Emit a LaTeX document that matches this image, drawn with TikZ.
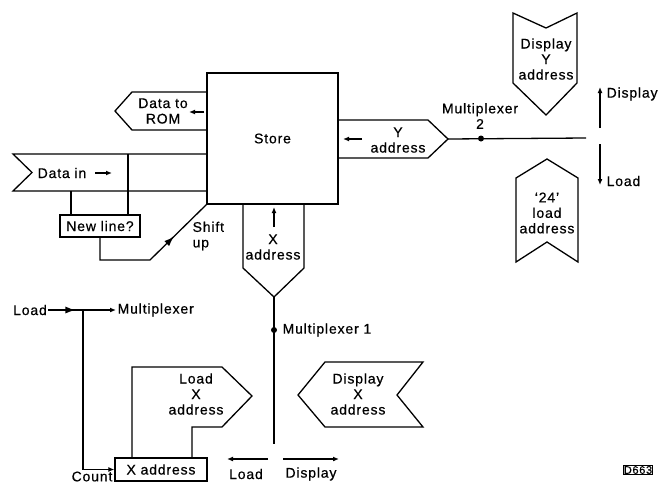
\documentclass[tikz,border=0pt]{standalone}
\usepackage{fontspec}
\setmainfont{Liberation Sans}[LetterSpace=6,FakeBold=0.6]
\usetikzlibrary{arrows.meta,decorations.markings}
\begin{document}
\begin{tikzpicture}[x=1pt,y=-1pt,line width=1.3pt,
  every node/.style={font=\fontsize{14}{15.5}\selectfont,inner sep=1pt},
  lbl/.style={align=center},
  boxed/.style={draw,line width=1.3pt,inner sep=2pt},
  tip/.style={-{Latex[length=6pt,width=5pt]}},
  midtip/.style={postaction={decorate},decoration={markings,
     mark=at position #1 with {\arrow{Latex[length=10pt,width=7pt]}}}},
  dot/.style={circle,fill,inner sep=0pt,minimum size=6pt}]
\useasboundingbox (0,0) rectangle (659,485);
% Store
\node[draw,minimum width=131,minimum height=131,line width=1.3pt] (store) at (272.5,138.5) {Store};
% Data to ROM (points left)
\draw (store.west |- 0,92) -- (132,92) -- (115,111) -- (132,130) -- (store.west |- 0,130);
\node[lbl] (rom) at (163,111) {Data to\\ROM};
\coordinate (romA) at (204,112); \coordinate (romB) at (189,112);
\draw[tip] (romA) -- (romB);
% Data in (notched flag)
\draw (store.west |- 0,154) -- (13,154) -- (32,172.5) -- (13,191) -- (store.west |- 0,191);
\node (datain) at (62,173) {Data in};
\coordinate (dinA) at (95,173); \coordinate (dinB) at (112,173);
\draw[tip] (dinA) -- (dinB);
% New line?
\node[boxed,minimum width=80,minimum height=22] (newline) at (100,226) {New line?};
\coordinate (nlA) at (71,191); \coordinate (nlB) at (128,154);
\draw (nlA) -- (nlA |- newline.north);
\draw (nlB) -- (nlB |- newline.north);
\draw[midtip=0.7] (newline.south) -- (100,260) -- (150,260) -- (store.south west);
\node[align=left,anchor=west] (shift) at (191,236) {Shift\\up};
% Y address (points right)
\coordinate (ytip) at (448,139);
\draw (store.east |- 0,120) -- (428,120) -- (ytip) -- (428,158) -- (store.east |- 0,158);
\node[lbl] (yaddr) at (398,140) {Y\\address};
\coordinate (yarA) at (362,139); \coordinate (yarB) at (343,139);
\draw[tip] (yarA) -- (yarB);
% Multiplexer 2
\coordinate (mux2end) at (586,138);
\draw (ytip) -- (mux2end);
\node[dot] (mux2) at (481,138.5) {};
\node[lbl] (mux2l) at (480,116) {Multiplexer\\2};
% Display / Load right
\coordinate (dispA) at (600,128); \coordinate (dispB) at (600,87);
\draw[tip] (dispA) -- (dispB);
\node[anchor=west] (displ) at (605,94) {Display};
\coordinate (loadA) at (600,144); \coordinate (loadB) at (600,185);
\draw[tip] (loadA) -- (loadB);
\node[anchor=west] (loadl) at (605,181) {Load};
% Display Y address (notch top, points down)
\draw (513,13) -- (546,28) -- (577,13) -- (577,83) -- (546,115) -- (513,83) -- cycle;
\node[lbl] (dispy) at (546,59) {Display\\Y\\address};
% '24' load address (points up, notch bottom)
\draw (547,159) -- (578,178) -- (578,262) -- (547,242) -- (516,262) -- (516,178) -- cycle;
\node[lbl] (load24) at (547,213) {`24'\\load\\address};
% X address (points down)
\coordinate (xtip) at (274,297);
\draw (store.south -| 243,0) -- (243,268) -- (xtip) -- (304,268) -- (store.south -| 304,0);
\node[lbl] (xaddr) at (273,247) {X\\address};
\coordinate (xarA) at (274,227); \coordinate (xarB) at (274,207);
\draw[tip] (xarA) -- (xarB);
% Multiplexer 1
\coordinate (mux1end) at (274,444);
\draw (xtip) -- (mux1end);
\node[dot] (mux1) at (274,330) {};
\node[anchor=west] (mux1l) at (281,330) {Multiplexer 1};
% Display X address (points left, notch right)
\draw (298,395) -- (325,362) -- (423,362) -- (397,395) -- (423,427) -- (325,427) -- cycle;
\node[lbl] (dispx) at (358,394) {Display\\X\\address};
% bottom Load / Display arrows
\coordinate (blA) at (268,459); \coordinate (blB) at (227,459);
\draw[tip] (blA) -- (blB);
\node (bload) at (246,474) {Load};
\coordinate (bdA) at (283,459); \coordinate (bdB) at (339,459);
\draw[tip] (bdA) -- (bdB);
\node (bdisp) at (311,474) {Display};
% Left: Load -> Multiplexer
\node (lload) at (30,310) {Load};
\node[anchor=west] (lmux) at (116,310) {Multiplexer};
\draw[midtip=0.4,tip] (lload.east) -- (lmux.west);
\coordinate (junc) at (83,310);
% X address box
\node[boxed,minimum width=92,minimum height=23] (xbox) at (161,469.5) {X address};
\draw[tip] (junc) -- (junc |- xbox.west) -- (xbox.west);
\node (count) at (92,476.5) {Count};
% Load X address
\draw (132,458) -- (132,367) -- (222,367) -- (252,396) -- (222,427) -- (192,427) -- (192,458);
\node[lbl] (loadx) at (196,394) {Load\\X\\address};
% label
\node[draw,line width=1pt,inner sep=0.5pt,font=\fontsize{11}{12}\selectfont] (tag) at (638,470) {D663};
\end{tikzpicture}
\end{document}
